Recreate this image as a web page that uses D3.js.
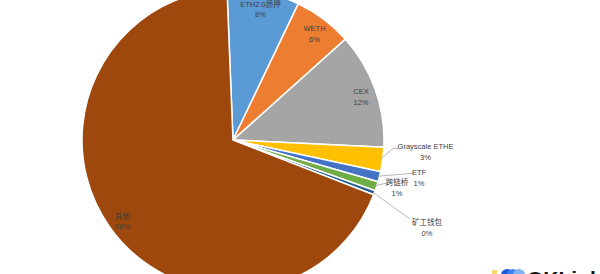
<!DOCTYPE html>
<html><head><meta charset="utf-8">
<script src="https://cdn.jsdelivr.net/npm/d3@7/dist/d3.min.js"></script>
<style>
html,body{margin:0;padding:0;background:#fff;overflow:hidden;}
svg{display:block;}
</style></head>
<body>
<svg id="chart" width="600" height="274"></svg>
<script>
const categories = ["ETH2.0质押","WETH","CEX","Grayscale ETHE","ETF","跨链桥","矿工钱包","其他"];
const values = [7.75, 6.25, 12.4, 2.6, 1.1, 1.0, 0.45, 68.45];
const colors = ["#5B9BD5","#ED7D31","#A5A5A5","#FFC000","#4472C4","#70AD47","#255E91","#9E480E"];

const svg = d3.select("#chart");
const cx = 233, cy = 140, R = 151;
const g = svg.append("g").attr("transform", `translate(${cx},${cy})`);

const data = categories.map((c,i)=>({name:c, value:values[i], color:colors[i]}));
const total = d3.sum(values);
const offset = -0.04;
const pie = d3.pie().value(d=>d.value).sort(null).startAngle(offset).endAngle(2*Math.PI+offset);
const arcs = pie(data);
const arc = d3.arc().innerRadius(0).outerRadius(R);

g.selectAll("path.slice").data(arcs).join("path")
  .attr("class","slice")
  .attr("d", arc)
  .attr("fill", d=>d.data.color)
  .attr("stroke","#fff").attr("stroke-width",1.5).attr("stroke-linejoin","round");

const pct = d => Math.round(d.data.value/total*100) + "%";
const labelArc = d3.arc().innerRadius(R*0.9).outerRadius(R*0.9);
const fontFam = "'Liberation Sans', Arial, 'Noto Sans CJK SC', sans-serif";

// inside labels
[0,1,2,7].forEach(i=>{
  let [x,y] = labelArc.centroid(arcs[i]);
  if (i === 0) y = Math.max(y, -cy + 5);
  const t = g.append("text").attr("text-anchor","middle")
    .attr("font-family",fontFam).attr("font-size",7.5).attr("fill","#404040");
  t.append("tspan").attr("x",x).attr("y",y).text(arcs[i].data.name);
  t.append("tspan").attr("x",x).attr("y",y+10.5).text(pct(arcs[i]));
});

// outside labels with leader lines (placement relative to centre)
const outside = {
  3:{lx:192.5, ly:6,  line:[[160,8.3],[165,8.3]]},
  4:{lx:186,   ly:32, line:[[180,33.3]]},
  5:{lx:164,   ly:42, line:[[154,43]]},
  6:{lx:194,   ly:82, line:[[177,79]]}
};
Object.keys(outside).forEach(k=>{
  const i = +k, o = outside[k];
  const a = arcs[i], mid = (a.startAngle+a.endAngle)/2;
  const p0 = [Math.sin(mid)*(R-2), -Math.cos(mid)*(R-2)];
  g.append("path").attr("d", d3.line()([p0].concat(o.line)))
    .attr("fill","none").attr("stroke","#A6A6A6").attr("stroke-width",0.8);
  const t = g.append("text").attr("text-anchor","middle")
    .attr("font-family",fontFam).attr("font-size",7.5).attr("fill","#404040");
  t.append("tspan").attr("x",o.lx).attr("y",o.ly+2.5).text(a.data.name);
  t.append("tspan").attr("x",o.lx).attr("y",o.ly+14).text(pct(a));
});

// watermark
const wm = svg.append("g");
wm.append("rect").attr("x",492).attr("y",270).attr("width",5).attr("height",5).attr("fill","#F5D76E");
[[507,"#1E5BD8"],[513,"#3B82F6"],[519,"#7FB2F7"]].forEach(([x,c])=>{
  wm.append("circle").attr("cx",x).attr("cy",275).attr("r",6).attr("fill",c);
});
wm.append("text").attr("x",527).attr("y",286).attr("font-family",fontFam)
  .attr("font-weight","bold").attr("font-size",21).attr("fill","#111").text("OKLink");
</script>
</body></html>
